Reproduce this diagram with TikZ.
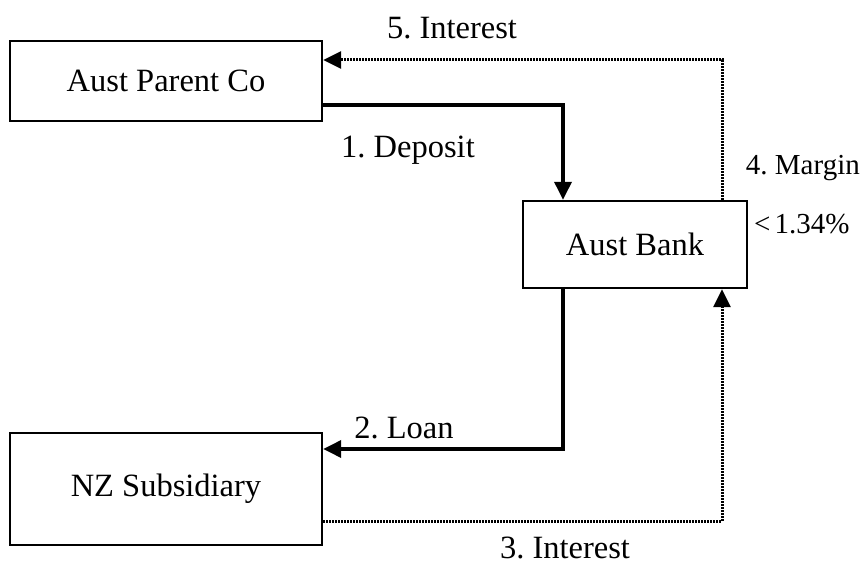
\documentclass[tikz,border=0pt]{standalone}
\usepackage{fontspec}
\setmainfont{Liberation Serif}
\usetikzlibrary{arrows.meta}
\frenchspacing
\begin{document}
\begin{tikzpicture}[x=1pt,y=-1pt,
  every node/.style={font=\fontsize{32.5}{38}\selectfont},
  box/.style={draw,line width=2.4pt,inner sep=0pt},
  flow/.style={line width=3.5pt,-{Triangle[length=18pt,width=17pt]}},
  backflow/.style={line width=3pt,dash pattern=on 2pt off 1pt,-{Triangle[length=18pt,width=17pt]}},
  lbl/.style={inner sep=0pt},
  sidelbl/.style={lbl,font=\fontsize{29}{34}\selectfont}]
\useasboundingbox (0,0) rectangle (862,567);
\fill[white] (0,0) rectangle (862,567);

% entities
\node[box,minimum width=312pt,minimum height=80pt] (parent) at (166,81) {Aust Parent Co};
\node[box,minimum width=224pt,minimum height=87pt] (bank) at (635,244.5) {Aust Bank};
\node[box,minimum width=312pt,minimum height=112pt] (nz) at (166,489) {NZ Subsidiary};

% flows of money
\draw[flow] ([yshift=-24pt]parent.east) -| ([xshift=-72pt]bank.north);
\draw[flow] ([xshift=-72pt]bank.south) |- ([yshift=40pt]nz.east);
\draw[backflow] ([yshift=-32pt]nz.east) -| ([xshift=87pt]bank.south);
\draw[backflow] ([xshift=87pt]bank.north) |- ([yshift=21pt]parent.east);

% labels
\node[lbl] (l5) at (452,28) {5. Interest};
\node[lbl] (l1) at (408,150) {1. Deposit};
\node[sidelbl,anchor=east] (l4) at (860,168) {4. Margin};
\node[sidelbl,anchor=west] (l4b) at (754,224) {<\hspace{4pt}1.34\%};
\node[lbl] (l2) at (404,428) {2. Loan};
\node[lbl] (l3) at (565,548) {3. Interest};
\end{tikzpicture}
\end{document}
